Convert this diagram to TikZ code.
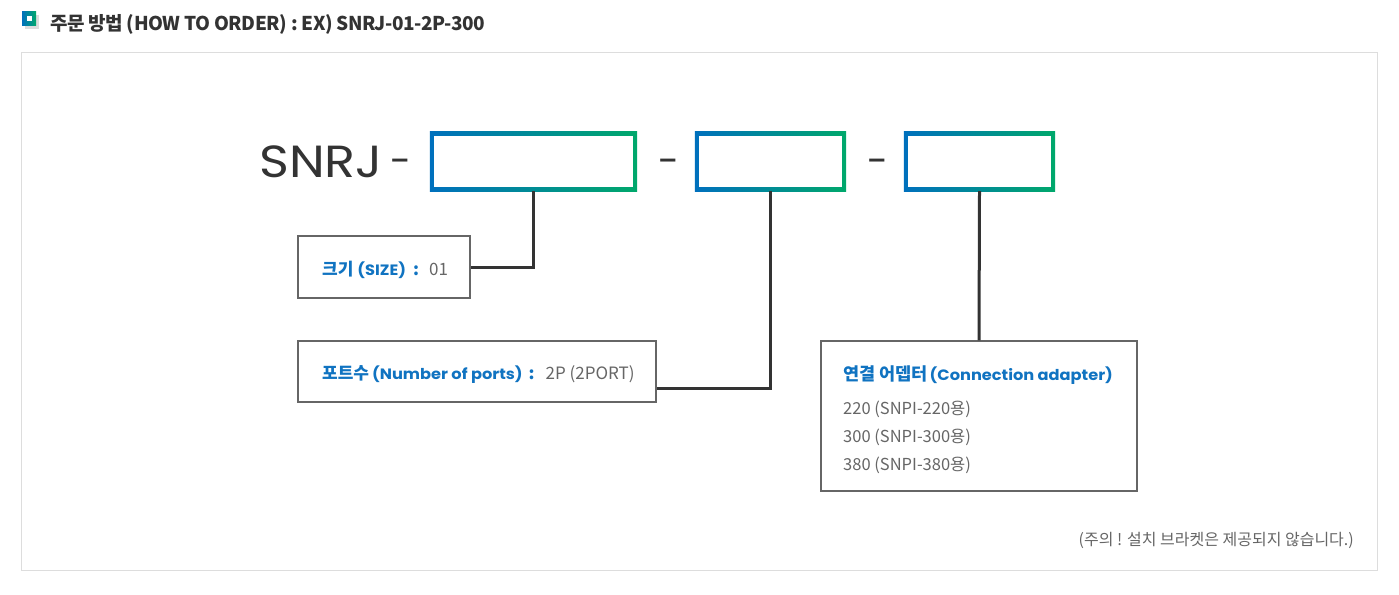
\documentclass[tikz,border=0pt]{standalone}
\usepackage{fontspec}
\newfontfamily\kr{Noto Sans CJK KR}
\newfontfamily\krt{Noto Sans CJK KR}[LetterSpace=-2.5]
\newfontfamily\pop{Poppins}
\newfontfamily\popw{Poppins}[FakeStretch=1.13]
\newfontfamily\popl{Poppins}[FakeStretch=1.08]
\definecolor{gblue}{RGB}{0,112,189}
\definecolor{ggreen}{RGB}{0,168,107}
\definecolor{kblue}{RGB}{16,115,193}
\definecolor{tgray}{RGB}{102,102,102}
\definecolor{dark}{RGB}{51,51,51}
\definecolor{frame}{RGB}{221,221,221}
\tikzset{
  gradbox/.style={minimum height=59pt, inner sep=0pt},
  labelbox/.style={draw=tgray, line width=1.3pt, inner sep=0pt, fill=white},
  conn/.style={draw=dark, line width=3pt},
  txt/.style={anchor=base west, inner sep=0pt},
}
\newcommand{\fs}[1]{\fontsize{#1pt}{#1pt}\selectfont}
\begin{document}
\begin{tikzpicture}[x=1pt,y=-1pt]
\useasboundingbox (0,0) rectangle (1399,594);
\fill[white] (0,0) rectangle (1399,594);
% title icon
\fill[frame] (25,15) rectangle (39,29);
\shade[left color=gblue, right color=ggreen] (22,12) rectangle (36,26);
\fill[white] (26.5,16.5) rectangle (31.5,21.5);
\node[txt, text=dark] (title) at (50,31) {\krt\bfseries\fs{19}주문 방법 (HOW TO ORDER) : EX) SNRJ-01-2P-300};
% outer frame
\draw[frame, line width=1pt] (21.5,52.5) rectangle (1377.5,570.5);
% model code
\node[txt, text=dark] (snrj) at (259,177) {\popw\fs{45}SNRJ};
\node[txt, text=dark] (d1) at (390,174) {\pop\fs{38}-};
\node[txt, text=dark] (d2) at (658,174) {\pop\fs{38}-};
\node[txt, text=dark] (d3) at (867,174) {\pop\fs{38}-};
\node[gradbox, minimum width=207pt] (b1) at (533.5,161.5) {};
\node[gradbox, minimum width=151pt] (b2) at (770.5,161.5) {};
\node[gradbox, minimum width=151pt] (b3) at (979.5,161.5) {};
\foreach \b in {b1,b2,b3}{
  \shade[left color=gblue, right color=ggreen] (\b.north west) rectangle (\b.south east);
  \fill[white] ([xshift=4pt,yshift=-4pt]\b.north west) rectangle ([xshift=-4pt,yshift=4pt]\b.south east);
}
% label boxes
\node[labelbox, minimum width=172pt, minimum height=62pt] (size) at (384,267) {};
\node[labelbox, minimum width=358pt, minimum height=61pt] (ports) at (477,371.5) {};
\node[labelbox, minimum width=316pt, minimum height=150pt] (adapter) at (979,416) {};
% connectors
\coordinate (j2) at (770.5,388);
\draw[conn] (b1.south) |- (size.east);
\draw[conn] (b2.south) -- (j2) -- (ports.east |- j2);
\draw[conn] (b3.south) -- (adapter.north);
% label texts
\node[txt] (tsize) at (322,275) {\fs{17}{\kr\bfseries\color{kblue}크기}\hspace{4pt}{\popl\bfseries\fs{15}\color{kblue}(SIZE)}\hspace{7pt}{\kr\bfseries\color{kblue}:}\hspace{10pt}{\kr\color{tgray}01}};
\node[txt] (tports) at (322,379) {\fs{17}{\kr\bfseries\color{kblue}포트수}\hspace{3pt}{\popl\bfseries\fs{15}\color{kblue}(Number of ports)}\hspace{6pt}{\kr\bfseries\color{kblue}:}\hspace{11pt}{\kr\color{tgray}2P (2PORT)}};
\node[txt] (tadapt) at (843,380) {\fs{17.5}{\kr\bfseries\color{kblue}연결 어뎁터}\hspace{2pt}{\popl\bfseries\fs{15}\color{kblue}(Connection adapter)}};
\node[txt, text=tgray] (a1) at (843,414) {\kr\fs{16.5}220 (SNPI-220용)};
\node[txt, text=tgray] (a2) at (843,442) {\kr\fs{16.5}300 (SNPI-300용)};
\node[txt, text=tgray] (a3) at (843,470) {\kr\fs{16.5}380 (SNPI-380용)};
\node[anchor=base east, inner sep=0pt, text=tgray] (note) at (1354,545) {\kr\fs{16}(주의 ! 설치 브라켓은 제공되지 않습니다.)};
\end{tikzpicture}
\end{document}
